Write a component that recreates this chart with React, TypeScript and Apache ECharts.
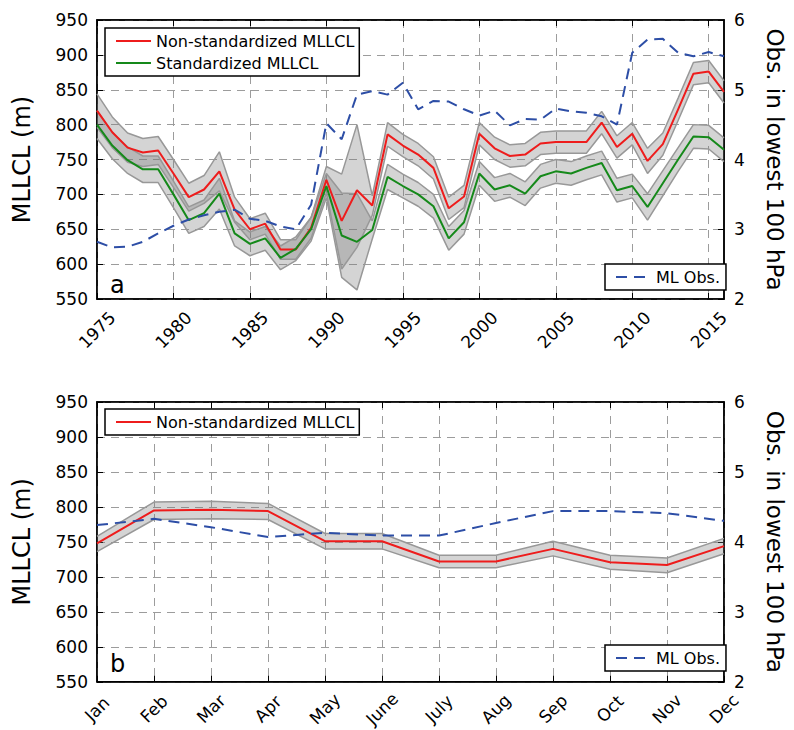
import React, { useEffect, useRef } from 'react';
import * as echarts from 'echarts';

// ---------- Panel a : annual (1975-2016) ----------
const years = [
  '1975', '1976', '1977', '1978', '1979', '1980', '1981', '1982', '1983', '1984',
  '1985', '1986', '1987', '1988', '1989', '1990', '1991', '1992', '1993', '1994',
  '1995', '1996', '1997', '1998', '1999', '2000', '2001', '2002', '2003', '2004',
  '2005', '2006', '2007', '2008', '2009', '2010', '2011', '2012', '2013', '2014',
  '2015', '2016',
];
const nonStdA = [
  820, 789, 767, 760, 763, 730, 696, 707, 733, 678,
  650, 658, 621, 621, 652, 721, 662, 706, 684, 786,
  770, 757, 738, 680, 697, 787, 766, 755, 757, 773,
  775, 775, 775, 803, 768, 787, 748, 772, 822, 873,
  876, 847,
];
const nonStdALow = [
  796, 767, 746, 740, 743, 710, 676, 687, 705, 660,
  635, 643, 607, 607, 637, 702, 593, 624, 670, 769,
  754, 741, 722, 664, 681, 771, 750, 739, 741, 757,
  759, 759, 759, 787, 752, 771, 730, 756, 806, 857,
  860, 831,
];
const nonStdAHigh = [
  844, 811, 788, 780, 783, 750, 716, 727, 761, 696,
  665, 673, 635, 635, 667, 740, 729, 800, 698, 803,
  786, 773, 754, 696, 713, 803, 782, 771, 773, 789,
  791, 791, 791, 819, 784, 803, 766, 788, 838, 889,
  892, 863,
];
const stdA = [
  800, 770, 749, 736, 736, 700, 663, 673, 701, 644,
  629, 637, 609, 622, 650, 712, 641, 632, 649, 725,
  712, 700, 683, 637, 660, 730, 707, 713, 701, 726,
  733, 730, 738, 745, 706, 712, 682, 716, 750, 783,
  782, 764,
];
const stdALow = [
  780, 751, 730, 717, 717, 681, 644, 654, 679, 626,
  612, 620, 592, 605, 633, 695, 581, 563, 636, 707,
  695, 683, 666, 620, 643, 713, 690, 696, 684, 709,
  716, 713, 721, 728, 689, 695, 663, 698, 733, 766,
  765, 747,
];
const stdAHigh = [
  820, 789, 768, 755, 755, 719, 682, 692, 723, 662,
  646, 654, 626, 639, 667, 730, 702, 701, 662, 743,
  729, 717, 700, 654, 677, 747, 724, 730, 718, 743,
  750, 747, 755, 762, 723, 729, 701, 734, 767, 800,
  799, 781,
];
const mlObsA = [
  2.82, 2.74, 2.75, 2.82, 2.94, 3.05, 3.14, 3.2, 3.25, 3.28,
  3.15, 3.12, 3.04, 3.0, 3.35, 4.52, 4.29, 4.93, 4.98, 4.93,
  5.1, 4.72, 4.84, 4.83, 4.72, 4.63, 4.7, 4.49, 4.58, 4.57,
  4.73, 4.69, 4.67, 4.62, 4.5, 5.53, 5.72, 5.73, 5.53, 5.48,
  5.54, 5.48,
];

// ---------- Panel b : monthly ----------
const months = ['Jan', 'Feb', 'Mar', 'Apr', 'May', 'June', 'July', 'Aug', 'Sep', 'Oct', 'Nov', 'Dec'];
const nonStdB = [748, 795, 796, 794, 751, 751, 722, 722, 740, 721, 717, 744];
const nonStdBLow = [736, 782, 783, 782, 740, 740, 713, 713, 730, 711, 706, 733];
const nonStdBHigh = [758, 807, 808, 805, 762, 762, 731, 731, 751, 731, 727, 755];
const mlObsB = [4.24, 4.33, 4.21, 4.07, 4.13, 4.09, 4.09, 4.27, 4.44, 4.44, 4.41, 4.3];

// ---------- ticks ----------
const mllclTicks = { min: 550, max: 950, interval: 50 };
const obsTicks = { min: 2, max: 6, interval: 1 };

const FONT = 'DejaVu Sans';
const RED = '#ee1c1c';
const GREEN = '#15891a';
const BLUE = '#2d4ea6';
const EDGE = '#989898';
const FILL = 'rgba(120,120,120,0.32)';
const GRIDLINE = { color: '#9c9c9c', width: 1, type: [8, 6] as any };

function band(lo: number[], hi: number[], stack: string, xi: number, yi: number) {
  const diff = hi.map((h, i) => h - lo[i]);
  return [
    {
      type: 'line', xAxisIndex: xi, yAxisIndex: yi, stack, data: lo, symbol: 'none',
      lineStyle: { color: EDGE, width: 1.5 }, silent: true,
    },
    {
      type: 'line', xAxisIndex: xi, yAxisIndex: yi, stack, data: diff, symbol: 'none',
      lineStyle: { color: EDGE, width: 1.5 }, areaStyle: { color: FILL, opacity: 1 }, silent: true,
    },
  ];
}

const every5 = (i: number) => i % 5 === 0;

function leftAxis(gridIndex: number) {
  return {
    type: 'value', gridIndex, position: 'left', ...mllclTicks,
    name: 'MLLCL (m)', nameLocation: 'middle', nameGap: 63,
    nameTextStyle: { fontSize: 24, color: '#000', fontFamily: FONT },
    axisLine: { show: true, lineStyle: { color: '#000', width: 1.5 } },
    axisTick: { show: true, inside: true, length: 6, lineStyle: { color: '#000' } },
    axisLabel: { fontSize: 17, color: '#000', fontFamily: FONT, margin: 9 },
    splitLine: { show: true, lineStyle: GRIDLINE },
  };
}
function rightAxis(gridIndex: number) {
  return {
    type: 'value', gridIndex, position: 'right', ...obsTicks,
    name: 'Obs. in lowest 100 hPa', nameLocation: 'middle', nameGap: 39, nameRotate: -90,
    nameTextStyle: { fontSize: 23, color: '#000', fontFamily: FONT },
    axisLine: { show: true, lineStyle: { color: '#000', width: 1.5 } },
    axisTick: { show: true, inside: true, length: 6, lineStyle: { color: '#000' } },
    axisLabel: { fontSize: 17, color: '#000', fontFamily: FONT, margin: 10 },
    splitLine: { show: false },
  };
}

const legendBase = {
  orient: 'vertical', backgroundColor: '#fff', borderColor: '#000', borderWidth: 1.5, borderRadius: 0,
  itemWidth: 35, itemHeight: 18, itemStyle: { opacity: 0 },
  textStyle: { fontSize: 16, color: '#000', fontFamily: FONT }, selectedMode: false,
};

function buildOption() {
  return {
    animation: false,
    backgroundColor: '#fff',
    textStyle: { fontFamily: FONT },
    grid: [
      { left: 97, top: 20, width: 637, height: 279, show: true, borderColor: '#000', borderWidth: 1.5, backgroundColor: '#fff' },
      { left: 97, top: 402, width: 637, height: 280, show: true, borderColor: '#000', borderWidth: 1.5, backgroundColor: '#fff' },
    ],
    xAxis: [
      {
        type: 'category', gridIndex: 0, data: years, boundaryGap: false, position: 'bottom',
        axisLine: { show: true, lineStyle: { color: '#000', width: 1.5 } },
        axisTick: { show: true, inside: true, length: 6, interval: every5, lineStyle: { color: '#000' } },
        axisLabel: {
          interval: every5, rotate: 45, align: 'center', verticalAlign: 'middle', margin: 31,
          fontSize: 17, color: '#000', fontFamily: FONT,
        },
        splitLine: { show: true, interval: every5, lineStyle: GRIDLINE },
      },
      {
        type: 'category', gridIndex: 1, data: months, boundaryGap: false, position: 'bottom',
        axisLine: { show: true, lineStyle: { color: '#000', width: 1.5 } },
        axisTick: { show: true, inside: true, length: 6, interval: 0, lineStyle: { color: '#000' } },
        axisLabel: {
          interval: 0, rotate: 45, align: 'center', verticalAlign: 'middle', margin: 27,
          fontSize: 17, color: '#000', fontFamily: FONT,
        },
        splitLine: { show: true, interval: 0, lineStyle: GRIDLINE },
      },
      {
        type: 'category', gridIndex: 0, data: years, boundaryGap: false, position: 'top',
        axisLine: { show: true, lineStyle: { color: '#000', width: 1.5 } },
        axisTick: { show: true, inside: true, length: 6, interval: every5, lineStyle: { color: '#000' } },
        axisLabel: { show: false }, splitLine: { show: false },
      },
      {
        type: 'category', gridIndex: 1, data: months, boundaryGap: false, position: 'top',
        axisLine: { show: true, lineStyle: { color: '#000', width: 1.5 } },
        axisTick: { show: true, inside: true, length: 6, interval: 0, lineStyle: { color: '#000' } },
        axisLabel: { show: false }, splitLine: { show: false },
      },
    ],
    yAxis: [leftAxis(0), rightAxis(0), leftAxis(1), rightAxis(1)],
    legend: [
      {
        ...legendBase, data: ['Non-standardized MLLCL', 'Standardized MLLCL'],
        left: 105, top: 28, padding: [5, 5, 5, 10], itemGap: 6,
      },
      { ...legendBase, data: ['ML Obs.'], left: 605, top: 264, padding: [5, 6, 5, 10] },
      { ...legendBase, data: ['Non-standardized MLLCL'], left: 105, top: 409, padding: [5, 5, 5, 10] },
      { ...legendBase, data: ['ML Obs.'], left: 605, top: 645, padding: [5, 6, 5, 10] },
    ],
    graphic: [
      { type: 'text', left: 110, top: 273, style: { text: 'a', fontSize: 24, fill: '#000', fontFamily: FONT } },
      { type: 'text', left: 110, top: 652, style: { text: 'b', fontSize: 24, fill: '#000', fontFamily: FONT } },
    ],
    series: [
      ...band(nonStdALow, nonStdAHigh, 'redBandA', 0, 0),
      ...band(stdALow, stdAHigh, 'greenBandA', 0, 0),
      {
        name: 'Non-standardized MLLCL', type: 'line', xAxisIndex: 0, yAxisIndex: 0, data: nonStdA,
        symbol: 'none', lineStyle: { color: RED, width: 2 }, itemStyle: { color: RED },
      },
      {
        name: 'Standardized MLLCL', type: 'line', xAxisIndex: 0, yAxisIndex: 0, data: stdA,
        symbol: 'none', lineStyle: { color: GREEN, width: 2 }, itemStyle: { color: GREEN },
      },
      {
        name: 'ML Obs.', type: 'line', xAxisIndex: 0, yAxisIndex: 1, data: mlObsA,
        symbol: 'none', lineStyle: { color: BLUE, width: 2, type: [11, 7] }, itemStyle: { color: BLUE },
      },
      ...band(nonStdBLow, nonStdBHigh, 'redBandB', 1, 2),
      {
        name: 'Non-standardized MLLCL', type: 'line', xAxisIndex: 1, yAxisIndex: 2, data: nonStdB,
        symbol: 'none', lineStyle: { color: RED, width: 2 }, itemStyle: { color: RED },
      },
      {
        name: 'ML Obs.', type: 'line', xAxisIndex: 1, yAxisIndex: 3, data: mlObsB,
        symbol: 'none', lineStyle: { color: BLUE, width: 2, type: [11, 7] }, itemStyle: { color: BLUE },
      },
    ],
  };
}

export default function App() {
  const ref = useRef<HTMLDivElement>(null);
  useEffect(() => {
    document.body.style.margin = '0';
    const chart = echarts.init(ref.current as HTMLDivElement, null, { renderer: 'svg', width: 794, height: 730 });
    chart.setOption(buildOption() as any);
    return () => chart.dispose();
  }, []);
  return <div ref={ref} style={{ width: 794, height: 730, background: '#fff' }} />;
}
